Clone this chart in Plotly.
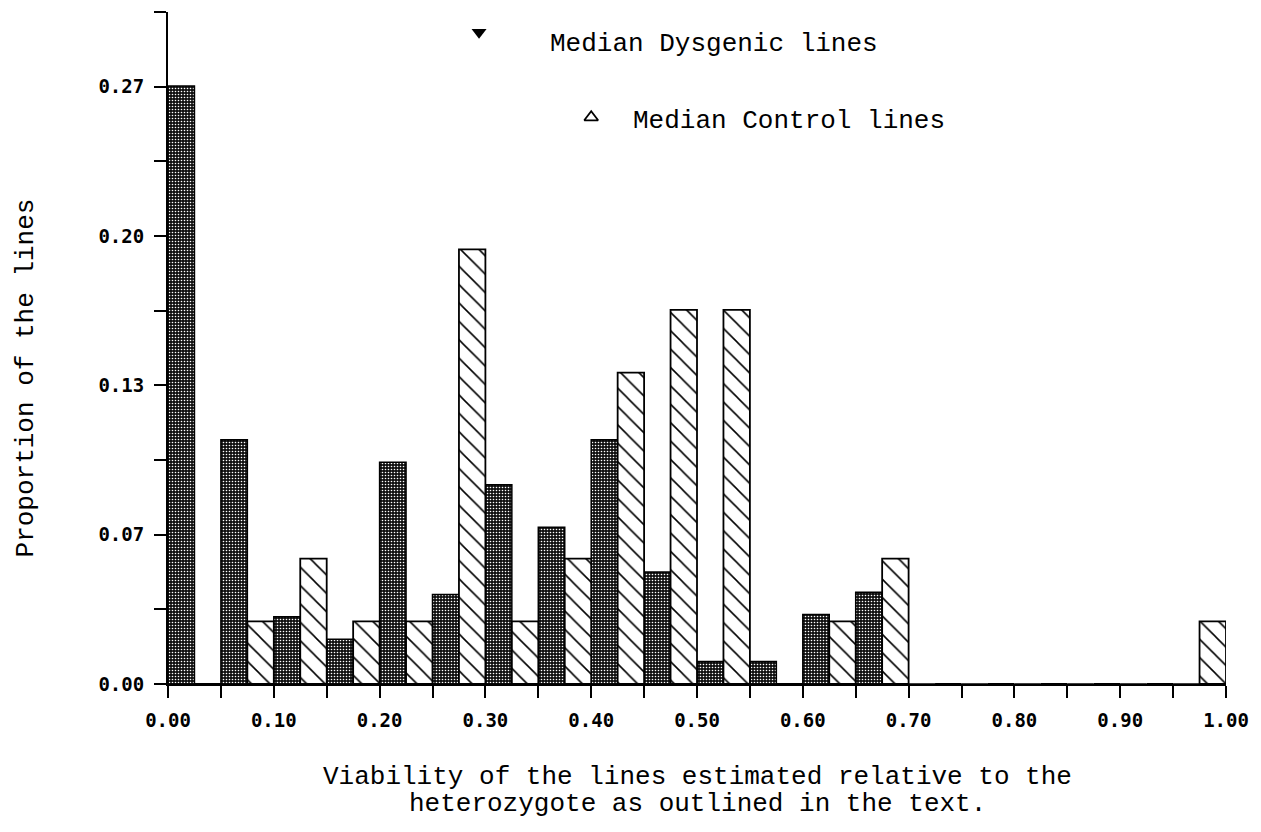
import plotly.graph_objects as go

# ---- data ----
bin_starts = [round(0.05 * i, 2) for i in range(20)]  # 0.00 .. 0.95 (bin lower edges)
dysgenic = [0.267, 0.109, 0.030, 0.020, 0.099, 0.040, 0.089, 0.070, 0.109, 0.050,
            0.010, 0.010, 0.031, 0.041, 0.0, 0.0, 0.0, 0.0, 0.0, 0.0]
control = [0.0, 0.028, 0.056, 0.028, 0.028, 0.194, 0.028, 0.056, 0.139, 0.167,
           0.167, 0.0, 0.028, 0.056, 0.0, 0.0, 0.0, 0.0, 0.0, 0.028]
median_dysgenic = 0.294
median_control = 0.400

x_tick_vals = [round(0.05 * i, 2) for i in range(21)]
x_tick_text = ["0.00", "", "0.10", "", "0.20", "", "0.30", "", "0.40", "", "0.50", "",
               "0.60", "", "0.70", "", "0.80", "", "0.90", "", "1.00"]
y_tick_vals = [i / 30 for i in range(10)]
y_tick_text = ["0.00", "", "0.07", "", "0.13", "", "0.20", "", "0.27", ""]

legend_dysgenic = "Median Dysgenic lines"
legend_control = "Median Control lines"
y_title = "Proportion of the lines"
x_title_1 = "Viability of the lines estimated relative to the"
x_title_2 = "heterozygote as outlined in the text."

# ---- figure ----
fig = go.Figure()

fig.add_trace(go.Bar(
    x=bin_starts, y=dysgenic, offset=0, width=0.025, name="Dysgenic",
    marker=dict(color="black", line=dict(color="black", width=1.5),
                pattern=dict(shape=".", fgcolor="white", bgcolor="#111111",
                             size=3, solidity=0.22, fillmode="replace")),
))
fig.add_trace(go.Bar(
    x=bin_starts, y=control, offset=0.025, width=0.025, name="Control",
    marker=dict(color="white", line=dict(color="black", width=1.8),
                pattern=dict(shape="\\", fgcolor="black", bgcolor="white",
                             size=13, solidity=0.12, fillmode="replace")),
))

fig.add_trace(go.Scatter(
    x=[median_dysgenic], y=[0.291], mode="markers", cliponaxis=False,
    marker=dict(symbol="triangle-down", size=13, color="black"),
))
fig.add_trace(go.Scatter(
    x=[median_control], y=[0.253], mode="markers", cliponaxis=False,
    marker=dict(symbol="triangle-up-open", size=12, color="black",
                line=dict(color="black", width=1.8)),
))

text_font = dict(family="Liberation Mono", size=26, color="black")

fig.add_annotation(text=legend_dysgenic, xref="paper", yref="paper",
                   x=0.3594, y=0.952, xanchor="left", yanchor="middle",
                   showarrow=False, font=text_font)
fig.add_annotation(text=legend_control, xref="paper", yref="paper",
                   x=0.4377, y=0.838, xanchor="left", yanchor="middle",
                   showarrow=False, font=text_font)
fig.add_annotation(text=y_title, xref="paper", yref="paper",
                   x=-0.134, y=0.455, xanchor="center", yanchor="middle",
                   textangle=-90, showarrow=False, font=text_font)
fig.add_annotation(text=x_title_1, xref="paper", yref="paper",
                   x=0.5, y=-0.1384, xanchor="center", yanchor="middle",
                   showarrow=False, font=text_font)
fig.add_annotation(text=x_title_2, xref="paper", yref="paper",
                   x=0.5, y=-0.1786, xanchor="center", yanchor="middle",
                   showarrow=False, font=text_font)

tick_font = dict(family="DejaVu Sans Mono", size=19, color="black", weight="bold")

fig.update_layout(
    width=1261, height=832,
    margin=dict(l=168, r=33, t=12, b=148, pad=0),
    paper_bgcolor="white", plot_bgcolor="white",
    barmode="overlay", showlegend=False,
    xaxis=dict(range=[0, 1], showgrid=False, zeroline=False,
               showline=True, linecolor="black", linewidth=2,
               ticks="outside", ticklen=12, tickwidth=2, tickcolor="black",
               tickmode="array", tickvals=x_tick_vals, ticktext=x_tick_text,
               tickfont=tick_font, ticklabelstandoff=6),
    yaxis=dict(range=[0, 0.30], showgrid=False, zeroline=False,
               showline=True, linecolor="black", linewidth=2,
               ticks="outside", ticklen=12, tickwidth=2, tickcolor="black",
               tickmode="array", tickvals=y_tick_vals, ticktext=y_tick_text,
               tickfont=tick_font, ticklabelstandoff=6),
)

fig.write_html("out.html")
